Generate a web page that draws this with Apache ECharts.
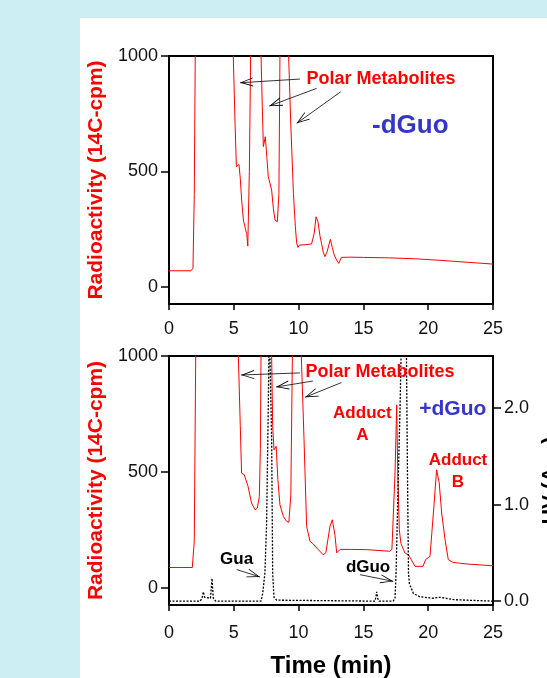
<!DOCTYPE html>
<html>
<head>
<meta charset="utf-8">
<title>Radioactivity and UV chromatograms</title>
<script src="https://cdn.jsdelivr.net/npm/echarts@6/dist/echarts.min.js"></script>
<style>
  html, body { margin: 0; padding: 0; background: #cdeef3; }
  #panel { position: absolute; left: 80px; top: 18px; right: 0; bottom: 0; background: #fff; }
  #main { position: absolute; left: 0; top: 0; width: 547px; height: 678px; }
</style>
</head>
<body>
<div id="panel"></div>
<div id="main"></div>
<script>
// time (min), radioactivity (14C-cpm) – without dGuo (top panel)
const radioNoDGuo = [
  [0, 69], [1.7, 69], [1.85, 80], [1.95, 400], [2.05, 1200], [3.5, 3000], [4.9, 1200],
  [4.96, 1000], [5.1, 700], [5.2, 520], [5.3, 515], [5.4, 530], [5.5, 470], [5.6, 380],
  [5.74, 289], [5.92, 245], [6.0, 230], [6.08, 176], [6.2, 500], [6.3, 1000], [6.5, 2000],
  [6.9, 1500], [7.1, 1000], [7.2, 780], [7.28, 607], [7.43, 650], [7.55, 560], [7.66, 477],
  [7.92, 419], [8.05, 340], [8.18, 289], [8.36, 282], [8.48, 400], [8.56, 1000], [8.9, 2000],
  [9.15, 1300], [9.23, 1000], [9.4, 700], [9.6, 405], [9.75, 260], [9.85, 190], [9.95, 170],
  [10.05, 180], [10.5, 182], [11.0, 185], [11.2, 230], [11.35, 303], [11.5, 280], [11.65, 220],
  [11.77, 188], [11.9, 150], [12.03, 130], [12.2, 152], [12.45, 205], [12.6, 170], [12.75, 137],
  [12.93, 116], [13.1, 101], [13.3, 127], [14, 128], [15, 127], [17, 125], [19, 121],
  [21, 114], [23, 106], [25, 98]
]

// time (min), radioactivity (14C-cpm) – with dGuo (bottom panel)
const radioWithDGuo = [
  [0, 87], [1.8, 87], [1.95, 200], [2.06, 1000], [3.5, 3000], [5.35, 1000], [5.5, 700],
  [5.6, 494], [5.8, 488], [6.1, 437], [6.37, 365], [6.64, 336], [6.81, 343], [6.97, 393],
  [7.05, 600], [7.1, 1000], [7.4, 2000], [7.85, 1200], [7.92, 1000], [8.0, 700], [8.1, 595],
  [8.27, 610], [8.4, 466], [8.56, 358], [8.82, 308], [9.08, 286], [9.25, 282], [9.4, 400],
  [9.52, 1000], [9.9, 2000], [10.15, 1200], [10.21, 1000], [10.42, 638], [10.62, 264],
  [10.88, 200], [11.0, 205], [11.1, 190], [11.4, 171], [11.9, 142], [12.1, 150], [12.42, 264],
  [12.6, 293], [12.8, 230], [12.94, 150], [13.2, 165], [14, 165], [15.25, 164], [17.04, 157],
  [17.2, 165], [17.44, 495], [17.57, 789], [17.65, 500], [17.77, 250], [17.9, 190], [18.2, 150],
  [18.5, 140], [18.6, 130], [18.98, 92], [19.6, 92], [19.8, 121], [20.14, 135], [20.4, 322],
  [20.65, 509], [20.85, 452], [21.04, 322], [21.3, 207], [21.55, 121], [21.9, 109], [23, 102],
  [24.77, 95], [25, 95]
]

// time (min), UV absorbance – with dGuo (bottom panel, right axis)
const uvWithDGuo = [
  [0, 0], [2.4, 0], [2.55, 0.03], [2.65, 0.096], [2.75, 0.04], [2.85, 0.02], [3.2, 0.03],
  [3.32, 0.235], [3.42, 0.03], [3.6, 0], [7.1, 0], [7.23, 0.08], [7.4, 0.29], [7.53, 0.8],
  [7.66, 2.0], [7.74, 2.9], [7.86, 2.9], [7.92, 1.67], [8.0, 0.29], [8.1, 0.04], [8.3, 0.01],
  [15.9, 0], [16.03, 0.096], [16.1, 0.03], [16.2, 0], [17.3, 0], [17.44, 0.03], [17.52, 0.29],
  [17.7, 1.32], [17.83, 2.01], [17.96, 2.9], [18.3, 2.9], [18.4, 1.32], [18.48, 0.29],
  [18.55, 0.18], [18.86, 0.08], [19.35, 0.045], [20.4, 0.03], [20.9, 0.04], [22, 0.015], [25, 0]
]

const timeTicks = [0, 5, 10, 15, 20, 25]
const radioTicks = [0, 500, 1000]
const uvTicks = [0, 1, 2]

const RED = '#ff0000'
const BLUE = '#3535c8'
const FONT = 'Liberation Sans, Arial, sans-serif'
// open "V" arrowhead; the tiny extra triangle above moves the tip to the symbol centre
const OPEN_ARROW = 'path://M5,0 L10,12 L9,12 L5,2.2 L1,12 L0,12 Z M5,-12 L5.02,-12 L5,-11.98 Z'

const chart = echarts.init(document.getElementById('main'))

const xAxisBase = (gridIndex, margin) => ({
  gridIndex,
  type: 'value',
  min: 0,
  max: 25,
  interval: 5,
  splitLine: { show: false },
  axisLine: { onZero: false, lineStyle: { color: '#000', width: 2 } },
  axisTick: { length: 6, lineStyle: { color: '#000', width: 1.5 } },
  axisLabel: { color: '#111', fontSize: 18, margin, fontFamily: FONT, formatter: (v) => String(v) }
})

const radioAxis = (gridIndex) => ({
  gridIndex,
  type: 'value',
  min: -75,
  max: 1000,
  splitLine: { show: false },
  axisLine: { show: true, lineStyle: { color: '#000', width: 2 } },
  axisTick: { show: true, length: 8, customValues: radioTicks, lineStyle: { color: '#000', width: 1.5 } },
  axisLabel: {
    color: '#111', fontSize: 18, margin: 11, customValues: radioTicks, fontFamily: FONT,
    formatter: (v) => String(v)
  },
  name: 'Radioactivity (14C-cpm)',
  nameLocation: 'middle',
  nameGap: 60,
  nameTextStyle: { color: RED, fontSize: 21, fontWeight: 'bold', fontFamily: FONT }
})

const arrowLine = (pairs) => ({
  silent: true,
  symbol: ['none', OPEN_ARROW],
  symbolSize: [9, 26],
  label: { show: false },
  lineStyle: { color: '#000', width: 0.8, type: 'solid' },
  data: pairs.map(([a, b]) => [{ coord: a }, { coord: b }])
})

const textMarks = (items) => ({
  silent: true,
  symbol: 'circle',
  symbolSize: 1,
  itemStyle: { color: 'transparent' },
  label: {
    show: true,
    position: 'inside',
    fontFamily: FONT,
    fontWeight: 'bold',
    fontSize: 17,
    lineHeight: 22,
    align: 'center',
    verticalAlign: 'middle',
    color: RED
  },
  data: items.map((it) => ({
    coord: it.coord,
    value: 0,
    label: Object.assign({ formatter: it.text }, it.style || {})
  }))
})

const option = {
  animation: false,
  backgroundColor: 'transparent',
  textStyle: { fontFamily: FONT },
  grid: [
    { left: 169, top: 56, width: 324, height: 248, show: true, borderColor: '#000', borderWidth: 2, backgroundColor: 'transparent', outerBoundsMode: 'none', containLabel: false },
    { left: 169, top: 356, width: 324, height: 249, show: true, borderColor: '#000', borderWidth: 2, backgroundColor: 'transparent', outerBoundsMode: 'none', containLabel: false }
  ],
  xAxis: [
    xAxisBase(0, 16),
    Object.assign(xAxisBase(1, 19), {
      name: 'Time (min)',
      nameLocation: 'middle',
      nameGap: 49,
      nameTextStyle: { color: '#000', fontSize: 24, fontWeight: 'bold', fontFamily: FONT }
    })
  ],
  yAxis: [
    radioAxis(0),
    radioAxis(1),
    {
      gridIndex: 1,
      type: 'value',
      position: 'right',
      min: -0.04,
      max: 2.54,
      splitLine: { show: false },
      axisLine: { show: true, lineStyle: { color: '#000', width: 2 } },
      axisTick: { show: true, length: 8, customValues: uvTicks, lineStyle: { color: '#000', width: 1.5 } },
      axisLabel: {
        color: '#111', fontSize: 18, margin: 11, customValues: uvTicks, fontFamily: FONT,
        formatter: (v) => v.toFixed(1)
      },
      name: '{a|UV (A}{s|254}{a|)}',
      nameLocation: 'middle',
      nameGap: 42,
      nameTextStyle: {
        rich: {
          a: { color: '#000', fontSize: 21, fontWeight: 'bold', fontFamily: FONT },
          s: { color: '#000', fontSize: 14, fontWeight: 'bold', fontFamily: FONT, padding: [12, 0, 0, 0] }
        }
      }
    }
  ],
  series: [
    {
      name: '-dGuo radioactivity',
      type: 'line',
      xAxisIndex: 0,
      yAxisIndex: 0,
      showSymbol: false,
      lineStyle: { color: RED, width: 1 },
      data: radioNoDGuo,
      markLine: arrowLine([
        [[10.1, 900], [5.48, 884]],
        [[11.4, 860], [7.74, 783]],
        [[13.25, 845], [9.85, 708]]
      ]),
      markPoint: textMarks([
        { coord: [16.36, 900], text: 'Polar Metabolites', style: { fontSize: 18 } },
        { coord: [18.62, 698], text: '-dGuo', style: { color: BLUE, fontSize: 26 } }
      ])
    },
    {
      name: '+dGuo radioactivity',
      type: 'line',
      xAxisIndex: 1,
      yAxisIndex: 1,
      showSymbol: false,
      lineStyle: { color: RED, width: 1 },
      data: radioWithDGuo,
      markLine: arrowLine([
        [[10.1, 927], [5.56, 918]],
        [[11.1, 892], [8.26, 866]],
        [[13.3, 885], [10.5, 822]],
        [[5.22, 78], [7.02, 46]],
        [[14.74, 56], [17.31, 27]]
      ]),
      markPoint: textMarks([
        { coord: [16.28, 930], text: 'Polar Metabolites', style: { fontSize: 18 } },
        { coord: [21.9, 770], text: '+dGuo', style: { color: BLUE, fontSize: 21 } },
        { coord: [14.92, 703], text: 'Adduct\nA' },
        { coord: [22.3, 501], text: 'Adduct\nB' },
        { coord: [5.22, 121], text: 'Gua', style: { color: '#000' } },
        { coord: [15.36, 86], text: 'dGuo', style: { color: '#000' } }
      ])
    },
    {
      name: '+dGuo UV',
      type: 'line',
      xAxisIndex: 1,
      yAxisIndex: 2,
      showSymbol: false,
      lineStyle: { color: '#000', width: 1.3, type: [2, 1.5] },
      data: uvWithDGuo
    }
  ]
}

chart.setOption(option)
window.addEventListener('resize', () => chart.resize())
</script>
</body>
</html>
